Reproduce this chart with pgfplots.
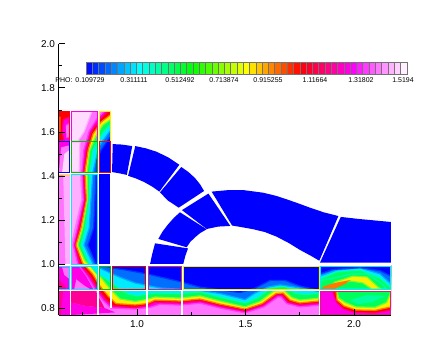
\documentclass[border=0pt]{standalone}
\usepackage{fontspec}
\setmainfont{Liberation Sans}
\usepackage{pgfplots}
\pgfplotsset{compat=1.18}
\definecolor{bl}{RGB}{0,0,255}
\definecolor{lb}{RGB}{0,110,255}
\definecolor{cy}{RGB}{0,235,255}
\definecolor{gr}{RGB}{0,255,90}
\definecolor{ye}{RGB}{250,240,0}
\definecolor{re}{RGB}{255,0,0}
\definecolor{ma}{RGB}{255,0,230}
\definecolor{hp}{RGB}{255,0,150}
\definecolor{pk}{RGB}{255,115,255}
\definecolor{lp}{RGB}{255,175,255}
\definecolor{pl}{RGB}{255,220,255}
\definecolor{mbl}{RGB}{0,55,255}
\definecolor{mlb}{RGB}{0,170,255}
\definecolor{mcy}{RGB}{0,255,170}
\definecolor{mgr}{RGB}{125,250,45}
\definecolor{mye}{RGB}{255,120,0}
\definecolor{mre}{RGB}{255,0,120}
\definecolor{mma}{RGB}{255,60,240}
\newcommand\lev[2]{\addplot[fill=#1,draw=none] coordinates {#2};}
\newcommand\lvv[3]{\addplot[fill=#1,draw=#2,line width=1.2bp] coordinates {#3};}
\newcommand\brect[5]{\addplot[draw=#1,line width=1bp] coordinates {(#2,#4)(#3,#4)(#3,#5)(#2,#5)(#2,#4)};}
\newcommand\sepx[3]{\addplot[draw=white,line width=#3] coordinates {#1 #2};}
\begin{document}
\begin{tikzpicture}[x=1bp,y=1bp]
\useasboundingbox (0,0) rectangle (444,355);
\begin{axis}[
  at={(58.5bp,40bp)},anchor=south west,scale only axis,
  width=332.5bp,height=271bp,
  xmin=0.6382,xmax=2.1705,ymin=0.7682,ymax=2.0,
  axis x line*=bottom,axis y line*=left,axis line style={-,line width=1bp},
  axis on top,
  xtick={1,1.5,2},ytick={0.8,1,1.2,1.4,1.6,1.8,2},
  minor xtick={0.75,1.25,1.75},minor ytick={0.9,1.1,1.3,1.5,1.7,1.9},
  tick style={black,line width=1bp},
  major tick length=6bp,minor tick length=3bp,tick align=inside,
  tick label style={font=\fontsize{10}{12}\selectfont},
  xticklabel style={yshift=-2bp},
  /pgf/number format/assume math mode=true,
  /pgf/number format/fixed,/pgf/number format/fixed zerofill,/pgf/number format/precision=1,
]
% arches
\lev{bl}{(.888,1.545)(.930,1.543)(.978,1.536)(.953,1.405)(.920,1.412)(.885,1.418)}
\lev{bl}{(.992,1.536)(1.040,1.526)(1.091,1.510)(1.145,1.484)(1.195,1.451)(1.103,1.329)(1.070,1.352)(1.032,1.373)(.995,1.389)(.959,1.401)}
\lev{bl}{(1.204,1.441)(1.237,1.418)(1.267,1.391)(1.290,1.363)(1.309,1.332)(1.192,1.256)(1.168,1.272)(1.143,1.288)(1.125,1.306)(1.106,1.326)}
\lev{bl}{(1.198,1.235)(1.321,1.158)(1.290,1.140)(1.267,1.121)(1.245,1.100)(1.229,1.076)(1.098,1.114)(1.118,1.148)(1.143,1.180)(1.170,1.210)}
\lev{bl}{(1.083,1.094)(1.235,1.071)(1.222,1.035)(1.213,.999)(1.060,.999)(1.069,1.041)}
\lev{bl}{(1.207,1.245)(1.329,1.320)(1.430,1.173)(1.373,1.170)(1.321,1.159)}
\lev{bl}{(1.344,1.329)(1.421,1.336)(1.490,1.336)(1.582,1.324)(1.640,1.310)(1.690,1.294)(1.745,1.275)(1.797,1.256)(1.860,1.235)(1.928,1.218)(1.840,1.015)(1.800,1.038)(1.751,1.064)(1.700,1.095)(1.644,1.124)(1.590,1.145)(1.536,1.158)(1.485,1.167)(1.438,1.175)}
\lev{bl}{(1.939,1.214)(2.020,1.205)(2.170,1.191)(2.170,1.006)(1.843,1.006)}
% field: left column and bottom strip, from the outer level inwards
\lev{pk}{(.638,1.695)(.876,1.695)(.876,.995)(1.839,.995)(1.839,.768)(.638,.768)}
\lev{ma}{(.638,1.695)(.691,1.695)(.691,1.559)(.638,1.559)}
\lvv{re}{mre}{(.638,1.695)(.691,1.695)(.691,1.670)(.660,1.655)(.655,1.600)(.665,1.559)(.638,1.559)}
\addplot[fill={rgb,255:red,255;green,90;blue,0},draw=none] coordinates {(.638,1.670)(.648,1.670)(.648,1.600)(.638,1.590)};
\lvv{pk}{mma}{(.672,1.630)(.691,1.640)(.691,1.575)(.675,1.575)}
\lev{ma}{(.638,1.555)(.691,1.555)(.691,1.418)(.638,1.418)}
\lev{pk}{(.650,1.530)(.691,1.540)(.691,1.418)(.640,1.418)}
\lev{pl}{(.665,1.500)(.691,1.520)(.691,1.418)(.655,1.418)}
\lev{lp}{(.660,1.409)(.691,1.409)(.691,1.000)(.670,1.000)}
\lev{ma}{(.638,.995)(.691,.995)(.691,.882)(.638,.882)}
\lev{hp}{(.638,.930)(.665,.905)(.675,.882)(.638,.882)}
\lev{pk}{(.655,.985)(.691,.985)(.691,.930)(.665,.950)}
\lev{hp}{(.638,.877)(.691,.877)(.691,.768)(.638,.768)}
\lev{ma}{(.660,.877)(.691,.877)(.691,.768)(.650,.768)}
\lvv{pl}{lp}{(.700,1.695)(.792,1.695)(.756,1.600)(.728,1.559)(.700,1.559)}
\lvv{pl}{lp}{(.700,1.555)(.737,1.555)(.733,1.418)(.700,1.418)}
\lev{lp}{(.700,1.409)(.737,1.409)(.742,1.291)(.710,1.155)(.700,1.109)}
\lev{ma}{(.696,.995)(.737,.995)(.800,.882)(.696,.882)}
\lev{pk}{(.720,.930)(.760,.900)(.790,.882)(.710,.882)}
\lev{ma}{(.696,.825)(.760,.810)(.850,.800)(.900,.780)(.696,.768)}
\lev{hp}{(.696,.877)(.810,.877)(.850,.800)(.760,.810)(.696,.825)}
\lvv{ma}{mma}{(.850,1.695)(.815,1.660)(.780,1.605)(.755,1.518)(.746,1.418)(.752,1.291)(.725,1.164)(.706,1.086)(.727,1.000)(.772,.940)(.806,.886)(.842,.835)(.880,.800)(.991,.795)(1.060,.803)(1.106,.817)(1.198,.813)(1.290,.822)(1.382,.800)(1.498,.778)(1.585,.805)(1.650,.850)(1.664,.850)(1.690,.820)(1.751,.805)(1.839,.813)(1.839,.995)(.876,.995)(.876,1.695)}
\lvv{re}{mre}{(.866,1.695)(.825,1.655)(.788,1.600)(.766,1.518)(.753,1.418)(.760,1.291)(.733,1.164)(.714,1.086)(.737,1.000)(.783,.945)(.816,.891)(.853,.841)(.889,.809)(.991,.802)(1.046,.811)(1.083,.827)(1.198,.823)(1.290,.832)(1.382,.809)(1.498,.786)(1.581,.814)(1.645,.859)(1.668,.859)(1.696,.827)(1.751,.814)(1.839,.823)(1.839,.995)(.876,.995)(.876,1.695)}
\lvv{ye}{mye}{(.876,1.677)(.834,1.645)(.797,1.591)(.775,1.518)(.760,1.418)(.767,1.291)(.742,1.164)(.719,1.086)(.749,1.005)(.795,.955)(.829,.900)(.866,.855)(.903,.820)(.991,.814)(1.046,.820)(1.083,.836)(1.198,.832)(1.290,.841)(1.382,.818)(1.498,.795)(1.576,.820)(1.641,.866)(1.673,.868)(1.705,.836)(1.751,.823)(1.839,.832)(1.839,.995)(.876,.995)}
\lvv{gr}{mgr}{(.876,1.655)(.843,1.632)(.811,1.582)(.783,1.518)(.770,1.418)(.772,1.291)(.750,1.164)(.728,1.086)(.760,1.014)(.793,.982)(.829,.945)(.857,.909)(.889,.873)(.922,.841)(.991,.830)(1.046,.839)(1.083,.850)(1.198,.845)(1.290,.855)(1.382,.832)(1.498,.805)(1.567,.830)(1.631,.877)(1.677,.880)(1.714,.848)(1.751,.836)(1.839,.845)(1.839,.995)(.876,.995)}
\lvv{cy}{mcy}{(.876,1.632)(.853,1.609)(.825,1.568)(.797,1.518)(.783,1.418)(.779,1.291)(.762,1.164)(.742,1.086)(.779,1.000)(.816,.955)(.853,.936)(.885,.914)(.922,.886)(.959,.864)(1.0,.855)(1.046,.864)(1.083,.868)(1.198,.866)(1.290,.873)(1.382,.850)(1.498,.823)(1.553,.845)(1.618,.891)(1.682,.898)(1.728,.868)(1.774,.861)(1.839,.868)(1.839,.995)(.876,.995)}
\lvv{lb}{mlb}{(.876,1.605)(.825,1.536)(.810,1.473)(.797,1.418)(.788,1.291)(.780,1.164)(.756,1.086)(.797,1.000)(.829,.982)(.885,.955)(.931,.936)(.991,.914)(1.106,.891)(1.290,.880)(1.382,.866)(1.498,.838)(1.544,.868)(1.604,.895)(1.659,.905)(1.728,.895)(1.839,.875)(1.839,.995)(.876,.995)}
\lvv{bl}{mbl}{(.876,1.577)(.834,1.518)(.815,1.473)(.811,1.418)(.806,1.291)(.800,1.164)(.774,1.086)(.810,1.000)(.885,.982)(.945,.973)(1.046,.955)(1.198,.920)(1.290,.895)(1.475,.870)(1.544,.890)(1.613,.925)(1.682,.925)(1.751,.900)(1.839,.880)(1.839,.995)(.876,.995)}
% field: right block
\lev{ma}{(1.843,.995)(2.170,.995)(2.170,.768)(1.843,.768)}
\lvv{re}{mre}{(1.843,.886)(1.899,.886)(1.908,.855)(1.922,.823)(1.954,.795)(2.009,.779)(2.097,.777)(2.170,.791)(2.170,.991)(1.843,.991)}
\lvv{ye}{mye}{(1.843,.900)(1.908,.890)(1.917,.877)(1.922,.836)(1.954,.809)(2.009,.791)(2.097,.789)(2.170,.805)(2.170,.991)(1.843,.991)}
\lvv{gr}{mgr}{(1.843,.914)(1.880,.905)(1.920,.882)(1.930,.845)(1.960,.825)(2.010,.805)(2.097,.803)(2.150,.825)(2.165,.860)(2.170,.895)(2.170,.991)(1.843,.991)}
\lvv{cy}{mcy}{(1.843,.932)(1.922,.964)(2.028,.973)(2.120,.936)(2.166,.895)(2.170,.891)(2.170,.991)(1.843,.991)}
\lvv{lb}{mlb}{(1.843,.945)(1.922,.973)(2.028,.982)(2.120,.955)(2.170,.910)(2.170,.991)(1.843,.991)}
\lvv{bl}{mbl}{(1.843,.955)(1.900,.975)(2.028,.983)(2.120,.970)(2.170,.945)(2.170,.991)(1.843,.991)}
\lvv{gr}{mcy}{(1.843,.925)(1.900,.935)(1.990,.955)(2.060,.955)(2.130,.910)(2.150,.886)(1.843,.886)}
\lvv{ye}{mgr}{(1.876,.886)(1.912,.918)(1.995,.945)(2.060,.941)(2.111,.895)(2.124,.886)(2.083,.886)(2.041,.914)(1.982,.923)(1.926,.905)(1.899,.886)}
\addplot[fill={rgb,255:red,255;green,120;blue,0},draw=none] coordinates {(1.843,.886)(1.866,.900)(1.912,.914)(1.982,.927)(1.959,.909)(1.926,.895)(1.912,.886)};
\addplot[fill={rgb,255:red,0;green,255;blue,160},draw=none] coordinates {(1.982,.836)(2.060,.859)(2.143,.855)(2.083,.827)(2.018,.818)};
% white separators
\sepx{(.638,.995)}{(2.170,.995)}{2.2bp}
\sepx{(.638,.882)}{(2.170,.882)}{2.6bp}
\sepx{(.638,1.557)}{(.880,1.557)}{1.4bp}
\sepx{(.638,1.414)}{(.880,1.414)}{1.4bp}
\sepx{(.694,1.695)}{(.694,.768)}{1.5bp}
\sepx{(.822,1.695)}{(.822,.768)}{1.8bp}
\sepx{(.880,1.700)}{(.880,.800)}{1.8bp}
\sepx{(.638,1.699)}{(.880,1.699)}{1.6bp}
\sepx{(1.046,.995)}{(1.046,.768)}{2bp}
\sepx{(1.207,.995)}{(1.207,.768)}{2bp}
\sepx{(1.841,.995)}{(1.841,.768)}{1.5bp}
% block borders
\brect{re}{.638}{.691}{1.695}{1.559}
\brect{bl}{.640}{.691}{1.555}{1.416}
\addplot[draw=ye,line width=1bp] coordinates {(.640,1.409)(.691,1.409)};
\brect{ma}{.698}{.818}{1.695}{1.559}
\brect{green!75!black}{.698}{.818}{1.555}{1.416}
\brect{cy}{.698}{.818}{1.409}{1.000}
\brect{ye}{.827}{.876}{1.695}{1.559}
\brect{re}{.827}{.876}{1.555}{1.416}
\brect{cy}{.640}{.691}{.989}{.886}
\brect{cy}{.698}{.818}{.989}{.886}
\brect{green!75!black}{.827}{.876}{.989}{.886}
\brect{red!85!black}{.885}{1.041}{.989}{.886}
\brect{magenta!85!black}{1.051}{1.203}{.989}{.886}
\brect{ye}{1.212}{1.839}{.989}{.886}
\brect{cy}{1.846}{2.170}{.989}{.886}
\brect{magenta!85!black}{1.846}{2.170}{.877}{.770}
\end{axis}
\begin{axis}[
  at={(86bp,281.3bp)},anchor=south west,scale only axis,
  width=320.7bp,height=11bp,
  xmin=0,xmax=51,ymin=0,ymax=1,
  ticks=none,axis line style={line width=1bp},
  colormap={vis}{rgb255=(0,0,255) rgb255=(0,255,255) rgb255=(0,255,0) rgb255=(255,255,0) rgb255=(255,0,0) rgb255=(255,0,255) rgb255=(255,255,255)},
  point meta min=0,point meta max=51,
]
\addplot[scatter,only marks,mark=square*,mark size=3.14bp,point meta=x,
  mark options={yscale=1.9,line width=0.4bp},
  scatter/use mapped color={draw=black!55,fill=mapped color}]
  coordinates {(0.5,.5)(1.5,.5)(2.5,.5)(3.5,.5)(4.5,.5)(5.5,.5)(6.5,.5)(7.5,.5)(8.5,.5)(9.5,.5)(10.5,.5)(11.5,.5)(12.5,.5)(13.5,.5)(14.5,.5)(15.5,.5)(16.5,.5)(17.5,.5)(18.5,.5)(19.5,.5)(20.5,.5)(21.5,.5)(22.5,.5)(23.5,.5)(24.5,.5)(25.5,.5)(26.5,.5)(27.5,.5)(28.5,.5)(29.5,.5)(30.5,.5)(31.5,.5)(32.5,.5)(33.5,.5)(34.5,.5)(35.5,.5)(36.5,.5)(37.5,.5)(38.5,.5)(39.5,.5)(40.5,.5)(41.5,.5)(42.5,.5)(43.5,.5)(44.5,.5)(45.5,.5)(46.5,.5)(47.5,.5)(48.5,.5)(49.5,.5)(50.5,.5)};
\end{axis}
\tikzset{cb/.style={inner sep=0pt,font=\fontsize{7}{8}\selectfont}}
\node[cb] at (64,275) {PHO:};
\node[cb] at (90,275) {0.109729};
\node[cb] at (134,275) {0.311111};
\node[cb] at (180,275) {0.512492};
\node[cb] at (224,275) {0.713874};
\node[cb] at (268,275) {0.915255};
\node[cb] at (315,275) {1.11664};
\node[cb] at (361,275) {1.31802};
\node[cb] at (403,275) {1.5194};
\end{tikzpicture}
\end{document}
